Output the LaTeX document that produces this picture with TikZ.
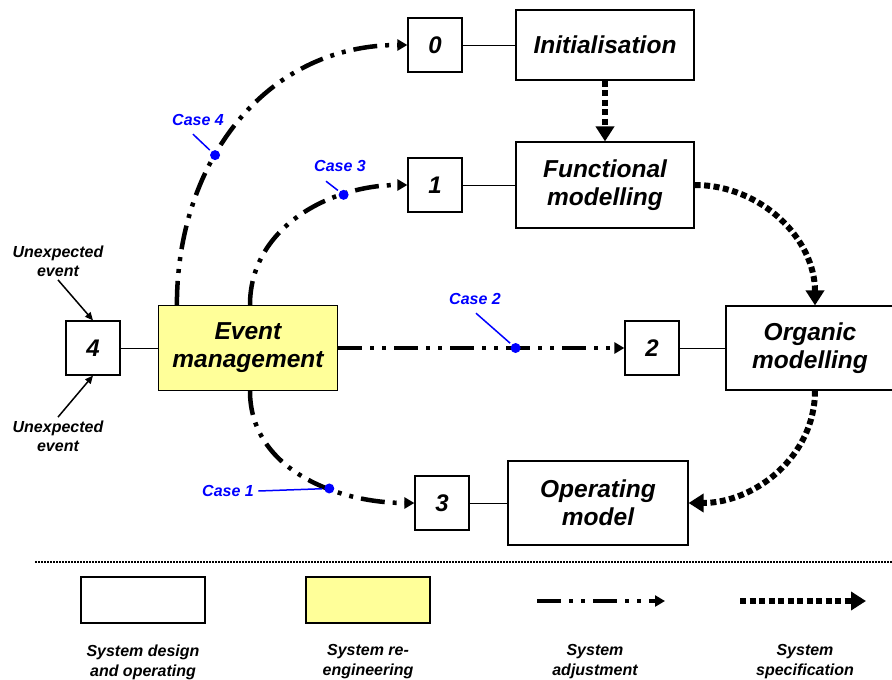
\documentclass[tikz,border=0pt]{standalone}
\usepackage{fontspec}
\setmainfont{Liberation Sans}
\usetikzlibrary{arrows.meta,positioning}

\definecolor{evyellow}{HTML}{FFFF99}
\definecolor{caseblue}{RGB}{0,0,255}

\tikzset{
    stage/.style={draw, line width=1.2pt, fill=white, align=center,
        minimum width=178pt, minimum height=70pt,
        font=\fontsize{24.5}{28}\selectfont\bfseries\itshape},
    numbox/.style={draw, line width=1.2pt, fill=white, minimum size=54pt,
        font=\fontsize{24}{28}\selectfont\bfseries\itshape},
    link/.style={line width=1pt},
    spec/.style={line width=6pt, dash pattern=on 6pt off 3.5pt,
        -{Triangle[length=15pt,width=18pt]}},
    adjust/.style={line width=4.5pt,
        dash pattern=on 24pt off 8pt on 4pt off 8pt on 4pt off 8pt,
        -{Triangle[length=10pt,width=11pt]}},
    casedot/.style={circle, fill=caseblue, inner sep=0pt, minimum size=10pt},
    caselabel/.style={text=caseblue, font=\fontsize{16}{18}\selectfont\bfseries\itshape},
    caseline/.style={draw=caseblue, line width=1.5pt},
    note/.style={align=center, font=\fontsize{16}{19}\selectfont\bfseries\itshape},
    unexp/.style={line width=1.5pt, -{Triangle[length=8pt,width=7pt]}},
    legbox/.style={draw, line width=1.2pt, minimum width=124pt, minimum height=46pt},
    legtext/.style={align=center, font=\fontsize{16}{20}\selectfont\bfseries\itshape}
}

\begin{document}
\begin{tikzpicture}[x=1pt,y=-1pt]

        \useasboundingbox (0,0) rectangle (892,680);

        % Stages
        \node[stage] (init) at (605,45) {Initialisation};
        \node[stage, minimum height=86pt] (func) at (605,185) {Functional\\modelling};
        \node[stage, minimum width=168pt, minimum height=84pt] (org) at (810,348) {Organic\\modelling};
        \node[stage, minimum width=180pt, minimum height=84pt] (oper) at (598,503) {Operating\\model};
        \node[stage, fill=evyellow, minimum width=179pt, minimum height=85pt] (event) at (248,348) {Event\\management};

        % Numbered entry points
        \node[numbox] (n0) at (435,45) {0};
        \node[numbox] (n1) at (435,185) {1};
        \node[numbox] (n2) at (652,348) {2};
        \node[numbox] (n3) at (442,503) {3};
        \node[numbox] (n4) at (93,348) {4};

        \draw[link] (n0) -- (init);
        \draw[link] (n1) -- (func);
        \draw[link] (n2) -- (org);
        \draw[link] (n3) -- (oper);
        \draw[link] (n4) -- (event);

        % System specification
        \draw[spec] (init) -- (func);
        \draw[spec] (func.east) to[out=0, in=90] ([xshift=5pt]org.north);
        \draw[spec] ([xshift=5pt]org.south) to[out=-90, in=0] (oper.east);

        % System adjustment
        \draw[adjust] ([xshift=19pt]event.north west) to[out=90, in=180, looseness=1.05]
            node[casedot, pos=0.39] (d4) {} (n0.west);
        \draw[adjust] ([xshift=2pt]event.north) to[out=90, in=180]
            node[casedot, pos=0.72] (d3) {} (n1.west);
        \draw[adjust] (event) -- node[casedot, pos=0.62] (d2) {} (n2);
        \draw[adjust] ([xshift=2pt]event.south) to[out=-90, in=180]
            node[casedot, pos=0.63] (d1) {} (n3.west);

        % Cases
        \node[caselabel] (c4) at (198,120) {Case 4};
        \node[caselabel] (c3) at (340,166) {Case 3};
        \node[caselabel] (c2) at (475,299) {Case 2};
        \node[caselabel] (c1) at (228,491) {Case 1};

        \draw[caseline] ([xshift=-5pt, yshift=-5pt]c4.south) -- (d4);
        \draw[caseline] ([xshift=-14pt, yshift=-6pt]c3.south) -- (d3);
        \draw[caseline] ([xshift=1pt, yshift=-5pt]c2.south) -- (d2);
        \draw[caseline] ([xshift=1pt]c1.east) -- (d1);

        % Unexpected events
        \node[note] (u1) at (58,261) {Unexpected\\event};
        \node[note] (u2) at (58,436) {Unexpected\\event};
        \draw[unexp] (u1.south) -- (n4.north);
        \draw[unexp] (u2.north) -- (n4.south);

        % Legend
        \coordinate (sepL) at (35,562);
        \coordinate (sepR) at (892,562);
        \draw[line width=1.6pt, dash pattern=on 1.6pt off 1.4pt] (sepL) -- (sepR);

        \node[legbox] (lg1) at (143,600) {};
        \node[legbox, fill=evyellow] (lg2) at (368,600) {};
        \coordinate (la1) at (537,601);
        \coordinate (la2) at (665,601);
        \coordinate (ls1) at (740,601);
        \coordinate (ls2) at (866,601);
        \draw[adjust, line width=3.5pt] (la1) -- (la2);
        \draw[spec] (ls1) -- (ls2);

        \node[legtext] (t1) at (143,662) {System design\\and operating};
        \node[legtext] (t2) at (368,662) {System re-\\engineering};
        \node[legtext] (t3) at (595,662) {System\\adjustment};
        \node[legtext] (t4) at (805,662) {System\\specification};

    \end{tikzpicture}
\end{document}
